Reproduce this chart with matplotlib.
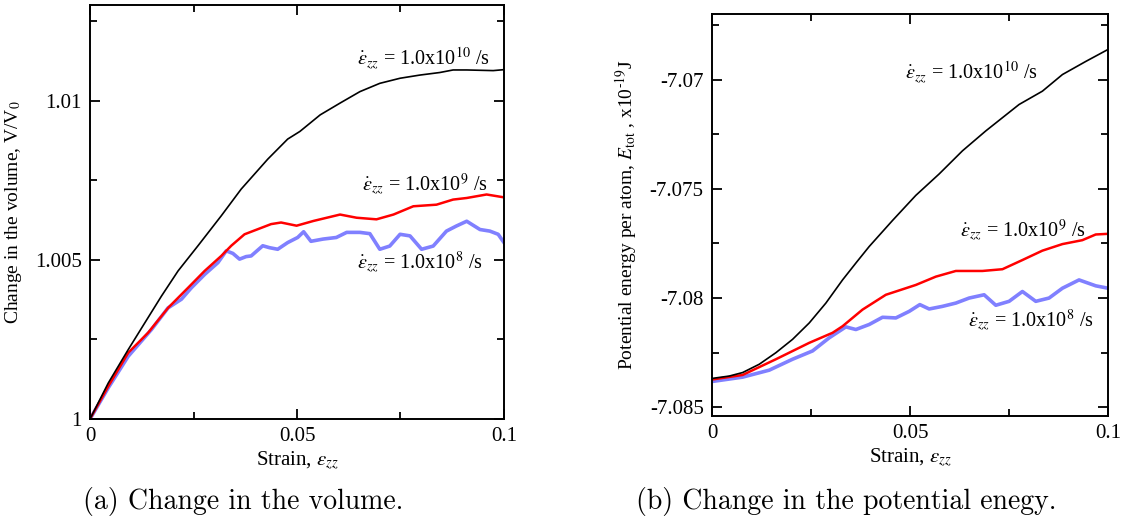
import matplotlib
matplotlib.use("Agg")
import matplotlib.pyplot as plt
from matplotlib.ticker import MultipleLocator, FixedLocator

plt.rcParams['font.family'] = ['Liberation Serif', 'DejaVu Serif']
plt.rcParams['mathtext.fontset'] = 'stix'

# ---- Panel (a): volume change V/V0 vs strain ----
vol_x_1e10 = [0.0, 0.00441, 0.00923, 0.01324, 0.01726, 0.02127, 0.02608, 0.0317, 0.03652,
              0.04294, 0.04775, 0.0507, 0.0556, 0.0604, 0.0652, 0.070, 0.0749, 0.0797, 0.0845,
              0.0877, 0.091, 0.0974, 0.1]
vol_y_1e10 = [1.0, 1.00113, 1.00218, 1.00302, 1.00386, 1.00465, 1.00544, 1.00638, 1.00722,
              1.00816, 1.00879, 1.00903, 1.00955, 1.00992, 1.01028, 1.01054, 1.0107, 1.0108,
              1.01088, 1.01096, 1.01096, 1.01094, 1.01097]

vol_x_1e9 = [0.0, 0.00441, 0.00923, 0.01404, 0.01886, 0.02368, 0.02769, 0.0317, 0.03411,
             0.03732, 0.04053, 0.04374, 0.04615, 0.0499, 0.054, 0.0604, 0.0644, 0.0692,
             0.0733, 0.0781, 0.0837, 0.0877, 0.091, 0.0958, 0.1]
vol_y_1e9 = [1.0, 1.00103, 1.00208, 1.00271, 1.00349, 1.00412, 1.00465, 1.00512, 1.00544,
             1.0058, 1.00596, 1.00612, 1.00617, 1.00607, 1.00622, 1.00642, 1.00632, 1.00627,
             1.00642, 1.00668, 1.00673, 1.00689, 1.00694, 1.00705, 1.00696]

vol_x_1e8 = [0.0, 0.00441, 0.00923, 0.01485, 0.01886, 0.02207, 0.02448, 0.02769, 0.0309,
             0.03291, 0.03451, 0.03612, 0.03772, 0.03892, 0.04173, 0.04334, 0.04534, 0.04775,
             0.05016, 0.0516, 0.05337, 0.0563, 0.0595, 0.062, 0.0652, 0.0676, 0.070, 0.0724,
             0.0749, 0.0773, 0.0801, 0.0829, 0.0861, 0.0885, 0.091, 0.0942, 0.0966, 0.0986, 0.1]
vol_y_1e8 = [1.0, 1.00098, 1.00197, 1.00281, 1.00349, 1.00376, 1.00412, 1.00454, 1.00491,
             1.00528, 1.0052, 1.00502, 1.0051, 1.00512, 1.00544, 1.00538, 1.00533, 1.00554,
             1.0057, 1.00588, 1.00558, 1.00565, 1.0057, 1.00586, 1.00586, 1.00582, 1.00533,
             1.00543, 1.0058, 1.00575, 1.00533, 1.00543, 1.0059, 1.00606, 1.00621, 1.00595,
             1.0059, 1.0058, 1.00554]

# ---- Panel (b): potential energy per atom vs strain ----
pe_x_1e10 = [0.0, 0.00437, 0.00774, 0.01194, 0.01615, 0.02035, 0.02456, 0.02876, 0.03297,
             0.0365, 0.0397, 0.04558, 0.05147, 0.05736, 0.06325, 0.06913, 0.07754, 0.08343,
             0.08848, 0.09437, 0.1]
pe_y_1e10 = [-7.08368, -7.08357, -7.08341, -7.08303, -7.0825, -7.08189, -7.08114, -7.08023,
             -7.07917, -7.07836, -7.07764, -7.07645, -7.07530, -7.07432, -7.07326, -7.07235,
             -7.07114, -7.07053, -7.06977, -7.06917, -7.06862]

pe_x_1e9 = [0.0, 0.00774, 0.01615, 0.02456, 0.03045, 0.03297, 0.03801, 0.0439, 0.05147,
            0.05652, 0.06157, 0.06829, 0.07334, 0.07838, 0.08343, 0.08848, 0.09352, 0.09689, 0.1]
pe_y_1e9 = [-7.08373, -7.08352, -7.0828, -7.08205, -7.08159, -7.08129, -7.08053, -7.07985,
            -7.0794, -7.07902, -7.07876, -7.07876, -7.07868, -7.07826, -7.07783, -7.07753,
            -7.07735, -7.07709, -7.07706]

pe_x_1e8 = [0.0, 0.00774, 0.01447, 0.02035, 0.0254, 0.0296, 0.0338, 0.03633, 0.0397, 0.04306,
            0.04643, 0.04979, 0.05248, 0.05484, 0.0582, 0.06157, 0.06493, 0.06871, 0.07166,
            0.07502, 0.07838, 0.08175, 0.08511, 0.08848, 0.09268, 0.09689, 0.1]
pe_y_1e8 = [-7.08382, -7.08362, -7.0833, -7.0828, -7.08242, -7.08182, -7.08132, -7.08144,
            -7.08121, -7.08088, -7.08091, -7.08061, -7.0803, -7.0805, -7.08038, -7.08023,
            -7.08, -7.07985, -7.08033, -7.08015, -7.0797, -7.08015, -7.08, -7.07955, -7.07917,
            -7.07944, -7.07955]

rate_labels = [r'$\dot{\varepsilon}_{zz}$ = 1.0x10$^{10}$ /s',
               r'$\dot{\varepsilon}_{zz}$ = 1.0x10$^{9}$ /s',
               r'$\dot{\varepsilon}_{zz}$ = 1.0x10$^{8}$ /s']
captions = ['(a) Change in the volume.', '(b) Change in the potential enegy.']

c_black = '#000000'
c_red = '#ff0000'
c_blue = '#8080ff'

fig = plt.figure(figsize=(11.31, 5.32), dpi=100)
axA = fig.add_axes([0.0796, 0.2124, 0.366, 0.7782])
axB = fig.add_axes([0.6295, 0.218, 0.3502, 0.7556])

def style(ax):
    for s in ax.spines.values():
        s.set_linewidth(1.4)
    ax.tick_params(which='both', direction='in', top=True, right=True,
                   width=1.3, labelsize=15, pad=6)
    ax.tick_params(which='major', length=7)
    ax.tick_params(which='minor', length=5)

axA.plot(vol_x_1e8, vol_y_1e8, color=c_blue, lw=2.6)
axA.plot(vol_x_1e9, vol_y_1e9, color=c_red, lw=1.8)
axA.plot(vol_x_1e10, vol_y_1e10, color=c_black, lw=1.2)
axA.set_xlim(0, 0.1)
axA.set_ylim(1.0, 1.013)
axA.xaxis.set_major_locator(FixedLocator([0, 0.05, 0.1]))
axA.xaxis.set_minor_locator(MultipleLocator(0.025))
axA.yaxis.set_major_locator(FixedLocator([1.0, 1.005, 1.01]))
axA.yaxis.set_minor_locator(MultipleLocator(0.0025))
axA.set_xticklabels(['0', '0.05', '0.1'])
axA.set_yticklabels(['1', '1.005', '1.01'])
style(axA)
axA.set_xlabel(r'Strain, $\varepsilon_{zz}$', fontsize=15, labelpad=2)
axA.set_ylabel(r'Change in the volume, V/V$_0$', fontsize=14, labelpad=8)
axA.text(0.0645, 1.0113, rate_labels[0], fontsize=14.5, ha='left', va='center')
axA.text(0.0657, 1.00737, rate_labels[1], fontsize=14.5, ha='left', va='center')
axA.text(0.0645, 1.0049, rate_labels[2], fontsize=14.5, ha='left', va='center')

axB.plot(pe_x_1e8, pe_y_1e8, color=c_blue, lw=2.6)
axB.plot(pe_x_1e9, pe_y_1e9, color=c_red, lw=1.8)
axB.plot(pe_x_1e10, pe_y_1e10, color=c_black, lw=1.2)
axB.set_xlim(0, 0.1)
axB.set_ylim(-7.0854, -7.067)
axB.xaxis.set_major_locator(FixedLocator([0, 0.05, 0.1]))
axB.xaxis.set_minor_locator(MultipleLocator(0.025))
axB.yaxis.set_major_locator(FixedLocator([-7.085, -7.08, -7.075, -7.07]))
axB.yaxis.set_minor_locator(FixedLocator([-7.0825, -7.0775, -7.0725, -7.0675]))
axB.set_xticklabels(['0', '0.05', '0.1'])
axB.set_yticklabels(['-7.085', '-7.08', '-7.075', '-7.07'])
style(axB)
axB.set_xlabel(r'Strain, $\varepsilon_{zz}$', fontsize=15, labelpad=2)
axB.set_ylabel(r'Potential energy per atom, $E_{\rm tot}$ , x10$^{\text{-19}}$J', fontsize=14, labelpad=8)
axB.text(0.0487, -7.0697, rate_labels[0], fontsize=14.5, ha='left', va='center')
axB.text(0.0626, -7.07692, rate_labels[1], fontsize=14.5, ha='left', va='center')
axB.text(0.0646, -7.08103, rate_labels[2], fontsize=14.5, ha='left', va='center')

fig.text(243 / 1131, 1 - 502 / 532, captions[0], family='cmr10', fontsize=20,
         ha='center', va='center')
fig.text(846 / 1131, 1 - 502 / 532, captions[1], family='cmr10', fontsize=20,
         ha='center', va='center')

fig.savefig('out.png', dpi=100)
